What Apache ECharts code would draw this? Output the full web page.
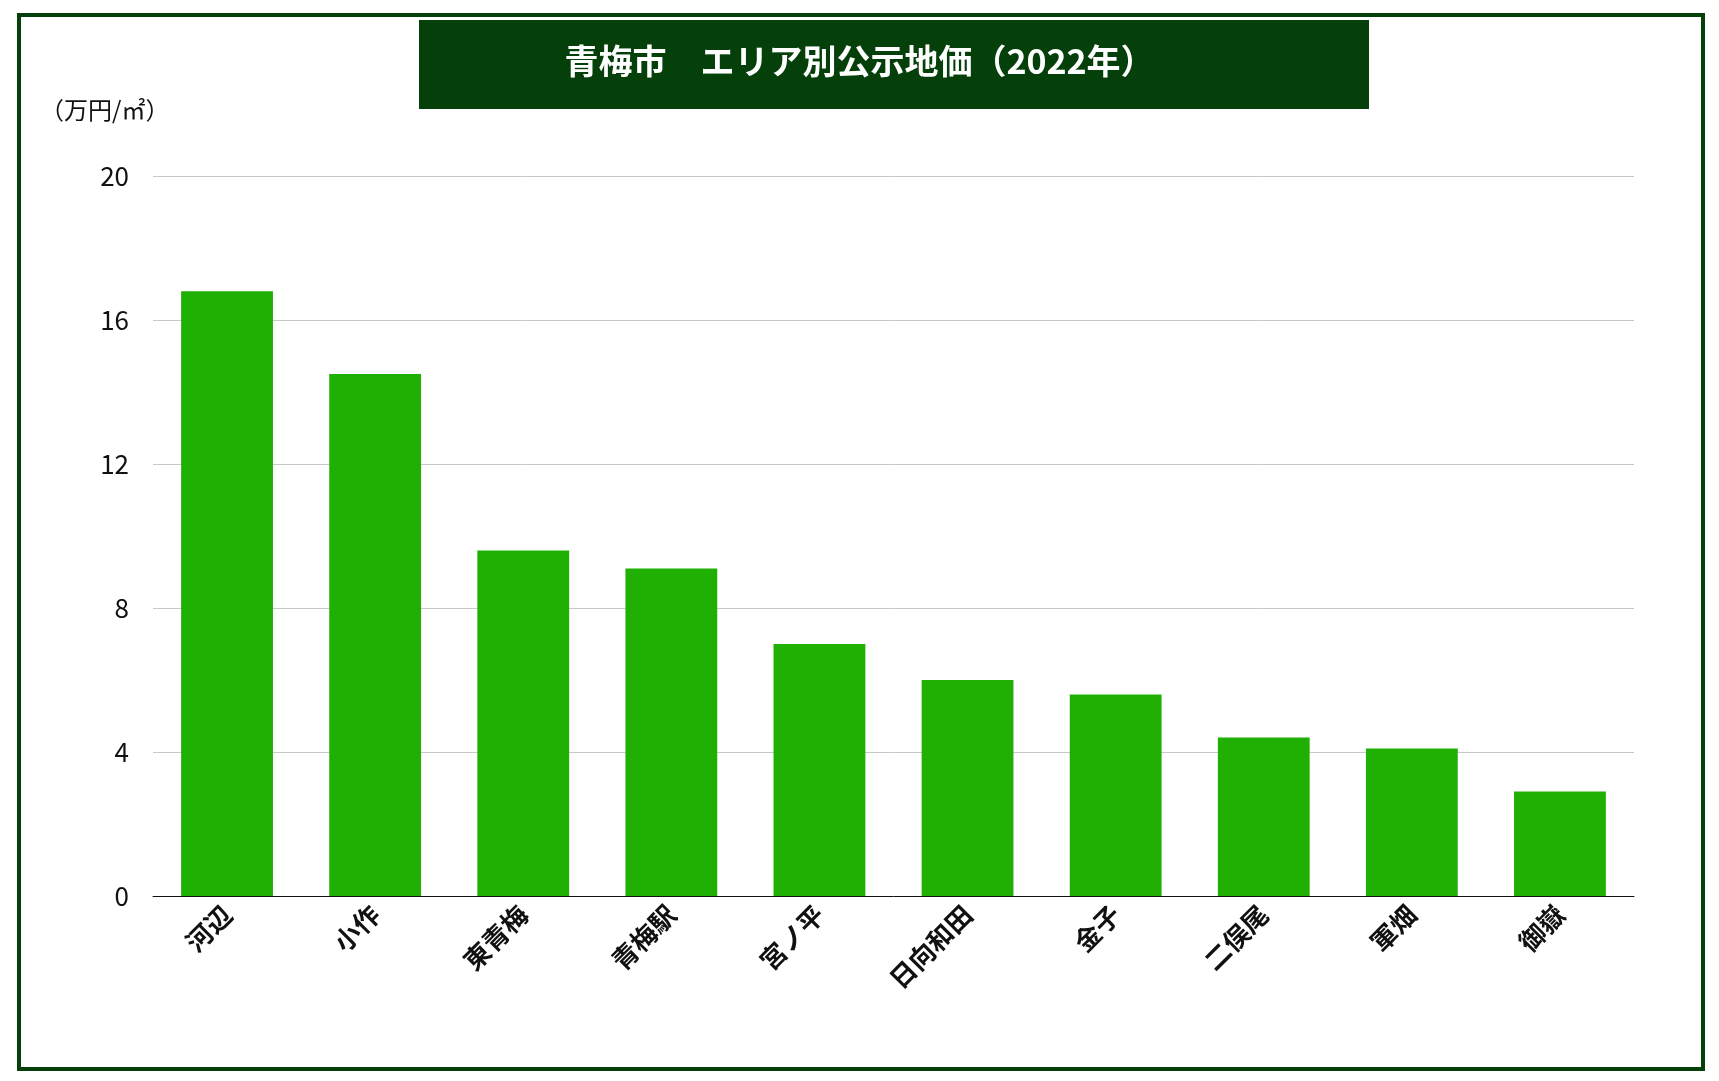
<!DOCTYPE html>
<html><head><meta charset="utf-8">
<script src="https://cdn.jsdelivr.net/npm/echarts@6/dist/echarts.min.js"></script>
<style>
html,body{margin:0;padding:0;background:#fff;}
#frame{position:absolute;left:17px;top:13px;width:1680px;height:1050px;border:4px solid #05400b;}
#chart{position:absolute;left:0;top:0;width:1719px;height:1081px;}
</style></head>
<body>
<div id="frame"></div>
<div id="chart"></div>
<script>
var areas = ['河辺','小作','東青梅','青梅駅','宮ノ平','日向和田','金子','二俣尾','軍畑','御嶽'];
var prices = [16.8, 14.5, 9.6, 9.1, 7.0, 6.0, 5.6, 4.4, 4.1, 2.9];
var font = '"Noto Sans CJK JP", "Noto Sans", sans-serif';

var chart = echarts.init(document.getElementById('chart'));
chart.setOption({
	graphic: [
		{ type: 'rect', left: 419, top: 20, shape: { width: 950, height: 89 }, style: { fill: '#05400b' } },
		{ type: 'text', left: 'center', top: 44, style: { text: '青梅市　エリア別公示地価（2022年）', fill: '#fff', font: 'bold 34px ' + font }, x: -0 },
		{ type: 'text', left: 40, top: 98, style: { text: '（万円/㎡）', fill: '#111', font: '24px ' + font } }
	],
	grid: { left: 153, right: 85, top: 176, bottom: 185, containLabel: false },
	xAxis: {
		type: 'category', data: areas,
		axisLine: { lineStyle: { color: '#111', width: 1 } },
		axisTick: { show: false },
		axisLabel: { rotate: 45, margin: 14, color: '#111', fontSize: 26, fontWeight: 'bold', fontFamily: font }
	},
	yAxis: {
		type: 'value', min: 0, max: 20, interval: 4,
		axisLine: { show: false }, axisTick: { show: false },
		splitLine: { lineStyle: { color: '#c8c8c8' } },
		axisLabel: { margin: 24, color: '#111', fontSize: 26, fontFamily: font }
	},
	series: [{ type: 'bar', data: prices, barWidth: '62%', itemStyle: { color: '#20af03' } }]
});
</script>
</body></html>
